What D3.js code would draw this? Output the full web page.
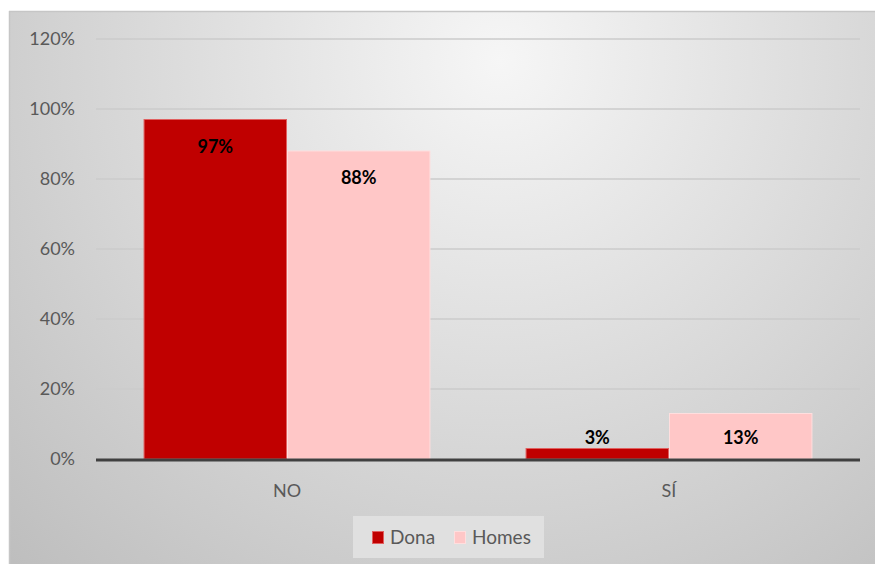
<!DOCTYPE html>
<html>
<head>
<meta charset="utf-8">
<script src="https://cdn.jsdelivr.net/npm/d3@7"></script>
<style>
  html, body { margin: 0; padding: 0; background: #ffffff; }
  svg { display: block; }
</style>
</head>
<body>
<svg id="chart" width="875" height="564"></svg>
<script>
// Chart data
const categories = ["NO", "SÍ"];
const seriesNames = ["Dona", "Homes"];
const donaValues = [0.97, 0.03];
const homesValues = [0.88, 0.13];
const yTicks = [0, 0.2, 0.4, 0.6, 0.8, 1.0, 1.2];
const seriesColors = ["#c00000", "#ffc7c7"];

const svg = d3.select("#chart");
const W = 875, H = 564;
const margin = { left: 96, right: 15, top: 39, bottom: 105 };
const font = "Lato, 'Open Sans', sans-serif";

// Background with soft radial shading
const defs = svg.append("defs");
const grad = defs.append("radialGradient")
  .attr("id", "bg")
  .attr("gradientUnits", "userSpaceOnUse")
  .attr("cx", 500).attr("cy", 60).attr("r", 700);
grad.append("stop").attr("offset", "0%").attr("stop-color", "#f6f6f6");
grad.append("stop").attr("offset", "100%").attr("stop-color", "#bebebe");

svg.append("rect")
  .attr("x", 9).attr("y", 11).attr("width", W - 9).attr("height", H - 11)
  .attr("fill", "url(#bg)");
svg.append("line")
  .attr("x1", 9).attr("x2", W).attr("y1", 11.5).attr("y2", 11.5)
  .attr("stroke", "#c6c6c6").attr("stroke-width", 1.5);
svg.append("line")
  .attr("x1", 9.5).attr("x2", 9.5).attr("y1", 11).attr("y2", H)
  .attr("stroke", "#c6c6c6").attr("stroke-width", 1.5);

const x0 = d3.scaleBand()
  .domain(categories)
  .range([margin.left, W - margin.right])
  .paddingInner(0.249)
  .paddingOuter(0.1245);
const x1 = d3.scaleBand()
  .domain(seriesNames)
  .range([0, x0.bandwidth()]);
const y = d3.scaleLinear()
  .domain([0, 1.2])
  .range([H - margin.bottom, margin.top]);

// Gridlines
svg.append("g")
  .selectAll("line")
  .data(yTicks.filter(t => t > 0))
  .join("line")
  .attr("x1", margin.left).attr("x2", W - margin.right)
  .attr("y1", d => y(d)).attr("y2", d => y(d))
  .attr("stroke", "#cbcbcb").attr("stroke-width", 1.5);

// Y axis labels
const yAxis = d3.axisLeft(y).tickValues(yTicks).tickFormat(d3.format(".0%")).tickSize(0).tickPadding(21);
const gy = svg.append("g").attr("transform", `translate(${margin.left},0)`).call(yAxis);
gy.select(".domain").remove();
gy.selectAll("text")
  .attr("fill", "#595959")
  .style("font-family", font)
  .style("font-size", "18px");

// Bars
const rows = categories.map((c, i) => ({
  category: c,
  values: [
    { series: "Dona", value: donaValues[i] },
    { series: "Homes", value: homesValues[i] }
  ]
}));
const color = d3.scaleOrdinal().domain(seriesNames).range(seriesColors);

const groups = svg.append("g").selectAll("g")
  .data(rows)
  .join("g")
  .attr("transform", d => `translate(${x0(d.category)},0)`);

groups.selectAll("rect")
  .data(d => d.values)
  .join("rect")
  .attr("x", d => x1(d.series) + 0.5)
  .attr("y", d => y(d.value))
  .attr("width", x1.bandwidth() - 1)
  .attr("height", d => y(0) - y(d.value))
  .attr("fill", d => color(d.series))
  .attr("stroke", d => d.series === "Dona" ? "#e06060" : "#ffdede")
  .attr("stroke-width", 1);

// Value labels
groups.selectAll("text.val")
  .data(d => d.values)
  .join("text")
  .attr("class", "val")
  .attr("x", d => x1(d.series) + x1.bandwidth() / 2)
  .attr("y", d => Math.min(y(d.value) + 33, y(0) - 15))
  .attr("text-anchor", "middle")
  .attr("fill", "#000000")
  .style("font-family", font)
  .style("font-weight", "bold")
  .style("font-size", "18px")
  .text(d => d3.format(".0%")(d.value));

// Baseline axis
svg.append("line")
  .attr("x1", margin.left).attr("x2", W - margin.right)
  .attr("y1", y(0) + 1).attr("y2", y(0) + 1)
  .attr("stroke", "#404040").attr("stroke-width", 3);

// Category labels
const xAxis = d3.axisBottom(x0).tickSize(0).tickPadding(25);
const gx = svg.append("g").attr("transform", `translate(0,${y(0)})`).call(xAxis);
gx.select(".domain").remove();
gx.selectAll("text")
  .attr("fill", "#595959")
  .style("font-family", font)
  .style("font-size", "18px");

// Legend
const legend = svg.append("g");
legend.append("rect")
  .attr("x", 353).attr("y", 516).attr("width", 191).attr("height", 42)
  .attr("fill", "#e0e0e0");
const legendX = [372, 454];
const items = legend.selectAll("g.item")
  .data(seriesNames)
  .join("g")
  .attr("class", "item")
  .attr("transform", (d, i) => `translate(${legendX[i]},531)`);
items.append("rect")
  .attr("x", 0.5).attr("y", 0.5).attr("width", 11).attr("height", 12)
  .attr("fill", d => color(d))
  .attr("stroke", (d, i) => i === 0 ? "#e06060" : "#ffdede");
items.append("text")
  .attr("x", 18).attr("y", 13)
  .attr("fill", "#595959")
  .style("font-family", font)
  .style("font-size", "19px")
  .text(d => d);
</script>
</body>
</html>
